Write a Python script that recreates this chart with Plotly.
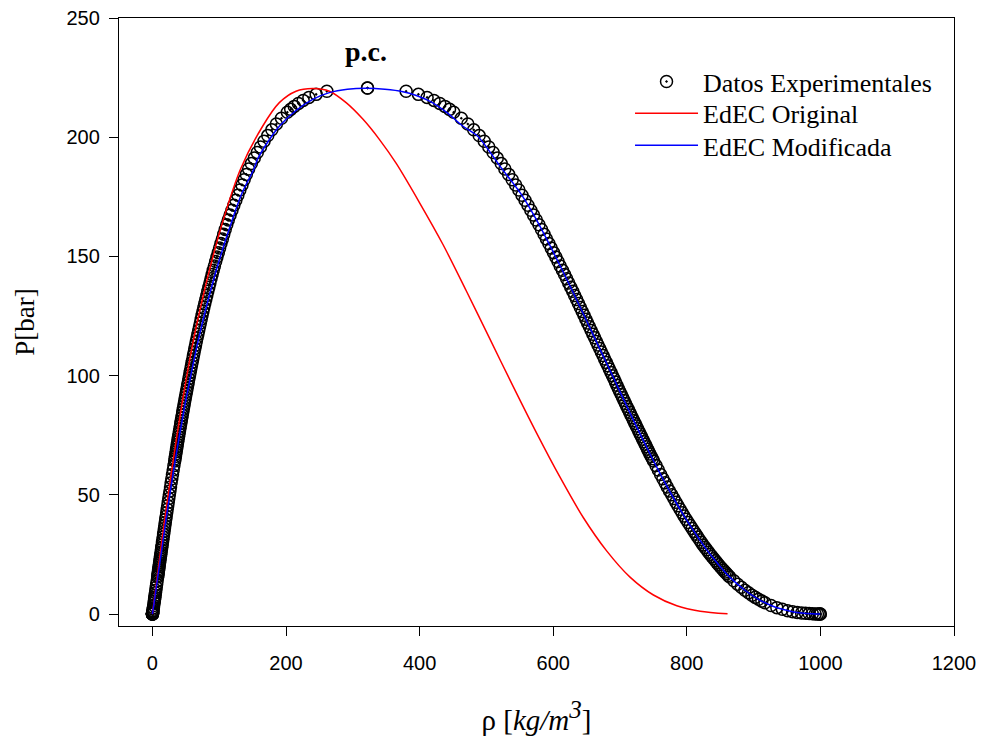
import plotly.graph_objects as go

# ---------------- Experimental saturation data (vapour / liquid branches) ----------------
P_sat = [
    0.0061, 0.0123, 0.0234, 0.0425, 0.0738, 0.1235, 0.1995, 0.3120, 0.4742, 0.7018,
    1.0142, 1.4338, 1.9867, 2.7026, 3.6154,
    4.7616, 5.4338, 6.1823, 7.0080, 7.9219, 8.9260, 10.028, 11.235, 12.552, 13.988,
    15.549, 16.21, 16.89, 17.60, 18.33, 19.08, 19.85, 20.65, 21.48, 22.33,
    23.20, 24.10, 25.03, 25.98, 26.96, 27.97, 29.01, 30.08, 31.18, 32.31,
    33.47, 34.67, 35.89, 37.15, 38.44, 39.76, 41.14, 42.54, 43.98, 45.46,
    46.92, 48.46, 50.04, 51.66, 53.32, 55.03, 56.77, 58.57, 60.40, 62.27,
    64.17, 65.14, 66.12, 67.11, 68.11, 69.12, 70.15, 71.19, 72.24, 73.32,
    74.42, 75.51, 76.61, 77.72, 78.84, 79.98, 81.13, 82.29, 83.47, 84.66,
    85.88, 87.09, 88.31, 89.55, 90.80, 92.07, 93.35, 94.64, 95.96, 97.29,
    98.65, 100.00, 101.37, 102.75, 104.15, 105.56, 106.99, 108.43, 109.89, 111.36,
    112.84, 114.34, 115.86, 117.39, 118.94, 120.51, 122.09, 123.69, 125.31, 126.94,
    128.58, 130.25, 131.94, 133.64, 135.36, 137.10, 138.85, 140.62, 142.41, 144.21,
    146.01, 147.85, 149.71, 151.59, 153.49, 155.41, 157.35, 159.31, 161.29, 163.29,
    165.29, 167.33, 169.39, 171.47, 173.57, 175.69, 177.83, 179.99, 182.17, 184.41,
    186.66, 188.94, 191.24, 193.57, 195.92, 198.29, 200.68, 203.09, 205.52, 207.97,
    210.44, 211.68, 212.93, 214.18, 215.44, 216.70, 217.97, 219.25, 220.64,
]

rho_liq = [
    999.8, 999.7, 998.2, 995.6, 992.2, 988.0, 983.2, 977.8, 971.8, 965.3,
    958.4, 950.9, 943.1, 934.8, 926.1,
    917.0, 912.4, 907.4, 902.5, 897.5, 892.3, 887.0, 881.6, 876.1, 870.4,
    864.3, 862.0, 859.8, 857.4, 855.0, 852.5, 850.1, 847.6, 845.2, 842.8,
    840.3, 837.7, 835.1, 832.5, 829.8, 827.1, 824.4, 821.7, 819.0, 816.3,
    813.6, 810.8, 807.9, 805.0, 802.0, 798.9, 795.9, 792.9, 789.9, 786.8,
    783.7, 780.6, 777.4, 774.1, 770.8, 767.5, 764.2, 760.8, 757.4, 753.9,
    750.3, 748.5, 746.7, 744.9, 743.1, 741.3, 739.5, 737.7, 735.8, 734.0,
    732.1, 730.2, 728.3, 726.4, 724.4, 722.4, 720.4, 718.4, 716.4, 714.4,
    712.3, 710.2, 708.1, 706.0, 703.9, 701.8, 699.6, 697.5, 695.3, 693.2,
    691.0, 688.7, 686.4, 684.1, 681.8, 679.4, 677.0, 674.6, 672.1, 669.6,
    667.1, 664.6, 662.0, 659.4, 656.8, 654.2, 651.5, 648.8, 646.1, 643.4,
    640.6, 637.8, 635.0, 632.1, 629.2, 626.2, 623.2, 620.1, 617.0, 613.8,
    610.5, 607.2, 603.9, 600.5, 597.0, 593.5, 589.9, 586.3, 582.5, 578.7,
    574.7, 570.6, 566.5, 562.2, 557.8, 553.3, 548.6, 543.8, 538.7, 533.3,
    527.6, 522.2, 516.3, 510.1, 503.6, 496.7, 489.2, 481.0, 472.2, 462.4,
    451.0, 444.8, 437.9, 430.2, 421.5, 411.2, 398.2, 379.8, 322.0,
]

rho_vap = [
    0.0049, 0.0094, 0.0173, 0.0304, 0.0512, 0.0831, 0.1304, 0.1984, 0.2937, 0.4238,
    0.5982, 0.8266, 1.1220, 1.4968, 1.9665,
    2.548, 2.884, 3.260, 3.670, 4.118, 4.615, 5.159, 5.751, 6.395, 7.098,
    7.86, 8.18, 8.51, 8.85, 9.21, 9.58, 9.96, 10.35, 10.76, 11.18,
    11.62, 12.07, 12.53, 13.00, 13.49, 13.99, 14.51, 15.06, 15.61, 16.18,
    16.77, 17.39, 18.02, 18.66, 19.31, 19.97, 20.68, 21.41, 22.16, 22.92,
    23.71, 24.53, 25.37, 26.25, 27.13, 28.05, 29.04, 30.06, 31.12, 32.21,
    33.35, 33.89, 34.43, 34.99, 35.55, 36.12, 36.71, 37.30, 37.90, 38.51,
    39.13, 39.78, 40.45, 41.12, 41.81, 42.51, 43.22, 43.94, 44.67, 45.42,
    46.17, 46.95, 47.75, 48.55, 49.37, 50.21, 51.06, 51.92, 52.80, 53.69,
    54.60, 55.53, 56.47, 57.43, 58.41, 59.40, 60.41, 61.43, 62.48, 63.54,
    64.60, 65.74, 66.91, 68.09, 69.30, 70.52, 71.77, 73.04, 74.33, 75.65,
    77.00, 78.45, 79.92, 81.42, 82.95, 84.51, 86.10, 87.72, 89.37, 91.05,
    92.8, 94.7, 96.6, 98.6, 100.6, 102.6, 104.7, 106.8, 109.0, 111.3,
    113.6, 116.3, 119.1, 121.9, 124.9, 127.9, 130.9, 134.1, 137.3, 140.6,
    144.0, 148.1, 152.5, 157.0, 161.8, 167.1, 172.7, 178.8, 185.6, 193.2,
    202.0, 207.0, 212.4, 218.6, 225.7, 234.3, 245.1, 261.2, 322.0,
]

# ---------------- EdEC Original (red) ----------------
rho_orig = [0.0, 2.3, 7.2, 18.5, 31.0, 43.0, 60.0, 72.0, 87.0, 106.0, 132.0,
            165.0, 190.0, 215.0, 240.0, 265.0, 290.0, 315.0, 340.0, 365.0,
            400.0, 435.0, 470.0, 505.0, 540.0, 575.0, 610.0, 645.0, 680.0,
            715.0, 750.0, 785.0, 820.0, 861.0]
P_orig = [0.0, 4.8, 15.5, 39.8, 64.2, 85.9, 112.8, 128.6, 146.0, 165.3, 186.7,
          204.6, 214.5, 219.3, 220.4, 219.3, 214.5, 207.6, 199.0, 189.0,
          172.5, 155.0, 135.5, 115.5, 95.5, 76.0, 57.5, 40.5, 26.5,
          15.5, 8.0, 3.5, 1.2, 0.1]

# ---------------- EdEC Modificada (blue) ----------------
rho_mod = [0.0, 2.6, 8.0, 14.5, 20.5, 34.0, 47.5, 56.5, 67.0, 80.5, 97.5, 119.5,
           134.0, 152.0, 158.0, 174.0, 190.0, 214.0, 240.0, 265.0, 292.0, 320.0,
           348.0, 375.0, 395.0, 415.0, 440.0, 465.0, 487.0, 520.0, 553.0, 575.0,
           610.5, 640.6, 667.1, 691.0, 712.3, 732.1, 750.3, 767.5, 783.7, 798.9,
           813.6, 827.1, 840.3, 852.5, 864.3, 887.0, 907.4, 926.1, 943.1, 958.4,
           971.8, 988.0, 999.8]
P_mod = [0.0, 4.8, 15.5, 28.0, 39.8, 64.2, 85.9, 98.7, 112.8, 128.6, 146.0, 165.3,
         176.5, 186.7, 191.1, 198.5, 204.6, 211.0, 215.9, 218.7, 220.1, 220.5,
         220.1, 219.1, 217.5, 215.1, 210.5, 204.6, 200.4, 188.0, 175.7, 165.3,
         146.0, 128.6, 112.8, 98.7, 85.9, 74.4, 64.2, 55.0, 46.9, 39.8,
         33.5, 28.0, 23.2, 19.1, 15.5, 10.0, 6.2, 3.6, 2.0, 1.0,
         0.47, 0.12, 0.01]

x_ticks = [0, 200, 400, 600, 800, 1000, 1200]
y_ticks = [0, 50, 100, 150, 200, 250]

exp_x = rho_vap + rho_liq[::-1]
exp_y = P_sat + P_sat[::-1]

fig = go.Figure()
fig.add_trace(go.Scatter(
    x=exp_x, y=exp_y, mode="markers", name="Datos Experimentales", legend="legend",
    marker=dict(symbol="circle-dot", size=12, color="rgba(0,0,0,0)",
                line=dict(color="black", width=1.5)),
))
fig.add_trace(go.Scatter(
    x=rho_orig, y=P_orig, mode="lines", name="EdEC Original", legend="legend2",
    line=dict(color="#ff0000", width=1.5, shape="spline", smoothing=0.8),
))
fig.add_trace(go.Scatter(
    x=rho_mod, y=P_mod, mode="lines", name="EdEC Modificada", legend="legend3",
    line=dict(color="#0000ff", width=1.5, shape="spline", smoothing=0.8),
))

fig.add_annotation(x=320, y=236, xref="x", yref="y", text="<b>p.c.</b>",
                   showarrow=False,
                   font=dict(family="Liberation Serif", size=28, color="black"))

axis_common = dict(
    ticks="outside", ticklen=9, tickwidth=1.2, tickcolor="black",
    showline=True, linecolor="black", linewidth=1.3, mirror=True,
    showgrid=False, zeroline=False,
    tickfont=dict(family="Liberation Sans", size=20, color="black"),
)

fig.update_xaxes(range=[-50, 1200], tickvals=x_ticks, ticklabelstandoff=10,
                 title=dict(text='ρ [<i>kg/m</i><sup><i><span style="font-size:25px">3</span></i></sup>]',
                            font=dict(family="Liberation Serif", size=29, color="black"),
                            standoff=36),
                 **axis_common)
fig.update_yaxes(range=[-5, 250], tickvals=y_ticks, ticklabelstandoff=5,
                 title=dict(text="P[bar]",
                            font=dict(family="Liberation Serif", size=27, color="black"),
                            standoff=24),
                 **axis_common)

legend_common = dict(xanchor="left", yanchor="top",
                     font=dict(family="Liberation Serif", size=26, color="black"),
                     bgcolor="rgba(0,0,0,0)", itemwidth=63)
lx = 0.612
fig.update_layout(
    width=987, height=747,
    margin=dict(l=119, r=33, t=18, b=121, autoexpand=False),
    plot_bgcolor="white", paper_bgcolor="white",
    showlegend=True,
    legend=dict(x=lx, y=0.934, **legend_common),
    legend2=dict(x=lx, y=0.882, **legend_common),
    legend3=dict(x=lx, y=0.829, **legend_common),
)

fig.write_html("out.html")
